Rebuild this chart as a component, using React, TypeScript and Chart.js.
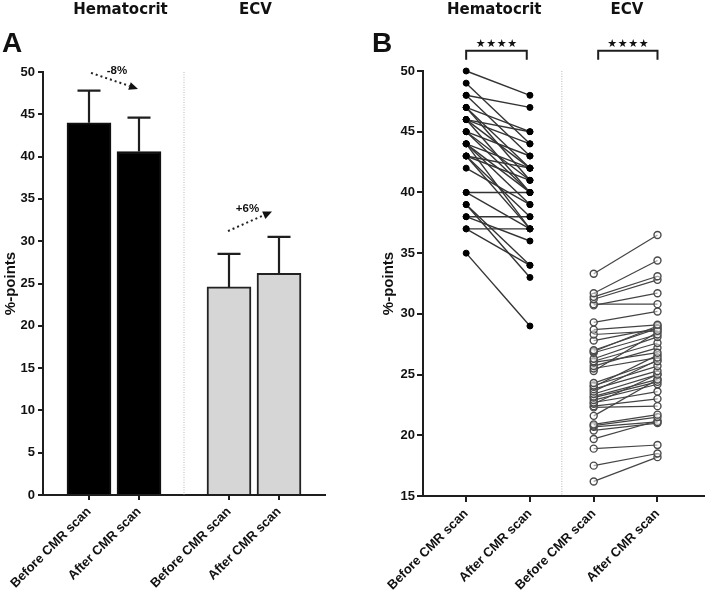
import React, { useEffect, useRef } from 'react';
import { Chart, registerables } from 'chart.js';
Chart.register(...registerables);

// ---------- shared labels ----------
const groupTitles = ['Hematocrit', 'ECV'];
const scanLabels = ['Before CMR scan', 'After CMR scan', 'Before CMR scan', 'After CMR scan'];
const panelLetters = ['A', 'B'];

// ---------- panel A (mean + SD bars) ----------
const barPositionsA = [0, 1, 2.8, 3.8];
const hctMeans = [44.0, 40.6];
const hctSD = [3.8, 4.0];
const ecvMeans = [24.6, 26.2];
const ecvSD = [3.9, 4.3];
const changeLabels = ['-8%', '+6%'];
const yTicksA = [0, 5, 10, 15, 20, 25, 30, 35, 40, 45, 50];

// ---------- panel B (paired values) ----------
const pairPositionsB = [0, 1, 2, 3];
const hctBefore = [50, 49, 48, 48, 47, 47, 47, 46, 46, 46, 46, 45, 45, 45, 44, 44, 44, 44, 43, 43, 43, 43, 42, 40, 40, 39, 39, 38, 38, 37, 37, 35];
const hctAfter = [48, 44, 47, 43, 45, 42, 41, 45, 44, 42, 40, 43, 41, 40, 42, 40, 39, 37, 42, 41, 38, 37, 39, 40, 37, 34, 33, 38, 36, 37, 34, 29];
const ecvBefore = [33.3, 31.7, 31.4, 31.2, 30.8, 30.7, 29.3, 28.7, 28.3, 27.8, 27.0, 26.9, 26.8, 26.3, 26.1, 26.0, 25.7, 25.5, 25.3, 24.3, 24.1, 24.0, 23.8, 23.6, 23.4, 23.2, 23.1, 22.9, 22.7, 22.6, 22.4, 22.3, 21.6, 20.9, 20.8, 20.7, 20.4, 19.7, 18.9, 17.5, 16.2];
const ecvAfter = [36.5, 34.4, 33.1, 32.8, 30.8, 31.7, 30.2, 29.1, 28.6, 28.8, 28.8, 29.0, 28.3, 28.1, 27.6, 26.8, 27.2, 26.4, 28.5, 26.1, 25.7, 26.6, 25.3, 26.2, 25.0, 24.6, 24.4, 24.2, 23.6, 25.0, 23.0, 22.4, 24.6, 21.7, 21.5, 21.1, 21.0, 21.2, 19.2, 18.5, 18.2];
const significance = ['****', '****'];
const yTicksB = [15, 20, 25, 30, 35, 40, 45, 50];

// ---------- styling ----------
const AXIS = '#1e1e1e';
const TXT = '#111';
const FAMILY = '"Liberation Sans", Arial, Helvetica, sans-serif';
const tickFontY = { family: FAMILY, size: 13, weight: 'bold' as const };
const tickFontX = { family: FAMILY, size: 13, weight: 'bold' as const };
const titleFont = { family: FAMILY, size: 15, weight: 'bold' as const };

function dottedArrow(ctx: CanvasRenderingContext2D, x1: number, y1: number, x2: number, y2: number) {
  const ang = Math.atan2(y2 - y1, x2 - x1);
  const head = 9;
  const bx = x2 - head * Math.cos(ang);
  const by = y2 - head * Math.sin(ang);
  ctx.save();
  ctx.strokeStyle = '#222';
  ctx.fillStyle = '#111';
  ctx.lineWidth = 2;
  ctx.setLineDash([2, 3]);
  ctx.beginPath();
  ctx.moveTo(x1, y1);
  ctx.lineTo(bx, by);
  ctx.stroke();
  ctx.setLineDash([]);
  ctx.beginPath();
  ctx.moveTo(x2, y2);
  ctx.lineTo(bx + 4 * Math.sin(ang), by - 4 * Math.cos(ang));
  ctx.lineTo(bx - 4 * Math.sin(ang), by + 4 * Math.cos(ang));
  ctx.closePath();
  ctx.fill();
  ctx.restore();
}

function drawHeader(chart: any, letter: string, letterX: number, titleXs: number[]) {
  const { ctx, scales } = chart;
  ctx.save();
  ctx.fillStyle = TXT;
  ctx.textBaseline = 'alphabetic';
  ctx.textAlign = 'left';
  ctx.font = `bold 28px ${FAMILY}`;
  ctx.fillText(letter, letterX, 52);
  ctx.textAlign = 'center';
  ctx.font = 'bold 15px "DejaVu Sans", sans-serif';
  groupTitles.forEach((t, i) => ctx.fillText(t, scales.x.getPixelForValue(titleXs[i]), 14));
  ctx.restore();
}

function separator(chart: any, xv: number) {
  const { ctx, scales, chartArea } = chart;
  const sx = scales.x.getPixelForValue(xv);
  ctx.save();
  ctx.strokeStyle = '#b8b8b8';
  ctx.lineWidth = 1;
  ctx.setLineDash([1, 1.5]);
  ctx.beginPath();
  ctx.moveTo(sx, chartArea.top);
  ctx.lineTo(sx, chartArea.bottom);
  ctx.stroke();
  ctx.restore();
}

const panelAPlugin = {
  id: 'panelA',
  beforeDatasetsDraw(chart: any) {
    separator(chart, 1.9);
  },
  afterDatasetsDraw(chart: any) {
    const { ctx, scales: { x, y } } = chart;
    const bars: number[][] = [
      ...hctMeans.map((m, i) => [barPositionsA[i], m, hctSD[i]]),
      ...ecvMeans.map((m, i) => [barPositionsA[i + 2], m, ecvSD[i]]),
    ];
    ctx.save();
    ctx.strokeStyle = AXIS;
    ctx.lineWidth = 2.2;
    for (const [pos, m, sd] of bars) {
      const px = x.getPixelForValue(pos);
      const pb = y.getPixelForValue(m);
      const pt = y.getPixelForValue(m + sd);
      ctx.beginPath();
      ctx.moveTo(px, pb);
      ctx.lineTo(px, pt);
      ctx.moveTo(px - 11.5, pt);
      ctx.lineTo(px + 11.5, pt);
      ctx.stroke();
    }
    ctx.restore();
    dottedArrow(ctx, x.getPixelForValue(0.04), y.getPixelForValue(49.9), x.getPixelForValue(0.98), y.getPixelForValue(48.0));
    dottedArrow(ctx, x.getPixelForValue(2.78), y.getPixelForValue(31.2), x.getPixelForValue(3.66), y.getPixelForValue(33.5));
    ctx.save();
    ctx.fillStyle = TXT;
    ctx.font = `bold 11.5px ${FAMILY}`;
    ctx.textAlign = 'center';
    ctx.textBaseline = 'alphabetic';
    ctx.fillText(changeLabels[0], x.getPixelForValue(0.56), y.getPixelForValue(49.75));
    ctx.fillText(changeLabels[1], x.getPixelForValue(3.17), y.getPixelForValue(33.45));
    ctx.restore();
  },
  afterDraw(chart: any) {
    drawHeader(chart, panelLetters[0], 2, [0.63, 3.33]);
  },
};

const panelBPlugin = {
  id: 'panelB',
  beforeDatasetsDraw(chart: any) {
    separator(chart, 1.5);
  },
  afterDraw(chart: any) {
    const { ctx, scales: { x, y } } = chart;
    drawHeader(chart, panelLetters[1], 22, [0.44, 2.52]);
    const brackets = [[0, 0.95], [2.07, 3.0]];
    ctx.save();
    ctx.strokeStyle = AXIS;
    ctx.fillStyle = TXT;
    ctx.lineWidth = 2;
    brackets.forEach(([a, b], i) => {
      const xa = x.getPixelForValue(a);
      const xb = x.getPixelForValue(b);
      const top = y.getPixelForValue(51.67);
      const leg = y.getPixelForValue(50.93);
      ctx.beginPath();
      ctx.moveTo(xa, leg);
      ctx.lineTo(xa, top);
      ctx.lineTo(xb, top);
      ctx.lineTo(xb, leg);
      ctx.stroke();
      const cx = (xa + xb) / 2;
      const stars = significance[i].length;
      ctx.font = '11px "DejaVu Sans", sans-serif';
      ctx.textAlign = 'center';
      ctx.textBaseline = 'alphabetic';
      for (let k = 0; k < stars; k++) {
        ctx.fillText('\u2605', cx + (k - (stars - 1) / 2) * 10.5, y.getPixelForValue(51.96));
      }
    });
    ctx.restore();
  },
};

function yAxis(min: number, max: number, ticks: number[], width: number, tickLen: number, pad: number) {
  return {
    type: 'linear' as const,
    min,
    max,
    afterBuildTicks: (s: any) => { s.ticks = ticks.map((v) => ({ value: v })); },
    ticks: { color: TXT, font: tickFontY, padding: pad },
    grid: { display: true, drawOnChartArea: false, drawTicks: true, tickLength: tickLen, color: AXIS, lineWidth: 2 },
    border: { display: true, color: AXIS, width: 2 },
    title: { display: true, text: '%-points', color: TXT, font: titleFont, padding: { top: 2, bottom: 0 } },
    afterFit: (s: any) => { s.width = width; s.paddingTop = 0; s.paddingBottom = 0; },
  };
}

function xAxis(min: number, max: number, positions: number[], height: number, tickLen: number) {
  return {
    type: 'linear' as const,
    min,
    max,
    offset: false,
    afterBuildTicks: (s: any) => { s.ticks = positions.map((v) => ({ value: v })); },
    ticks: {
      autoSkip: false,
      maxRotation: 45,
      minRotation: 45,
      color: TXT,
      font: tickFontX,
      padding: 4,
      callback: (v: any) => scanLabels[positions.indexOf(Number(v))] ?? '',
    },
    grid: { display: true, offset: false, drawOnChartArea: false, drawTicks: true, tickLength: tickLen, color: AXIS, lineWidth: 2 },
    border: { display: true, color: AXIS, width: 2 },
    afterFit: (s: any) => { s.height = height; s.paddingLeft = 0; s.paddingRight = 0; },
  };
}

export default function App() {
  const refA = useRef<HTMLCanvasElement>(null);
  const refB = useRef<HTMLCanvasElement>(null);

  useEffect(() => {
    const chartA = new Chart(refA.current as HTMLCanvasElement, {
      type: 'bar',
      data: {
        datasets: [
          {
            label: groupTitles[0],
            data: hctMeans.map((m, i) => ({ x: barPositionsA[i], y: m })),
            backgroundColor: '#000',
            borderColor: '#111',
            borderWidth: 2,
            barThickness: 44,
            grouped: false,
          } as any,
          {
            label: groupTitles[1],
            data: ecvMeans.map((m, i) => ({ x: barPositionsA[i + 2], y: m })),
            backgroundColor: '#d6d6d6',
            borderColor: '#222',
            borderWidth: 2,
            barThickness: 44,
            grouped: false,
          } as any,
        ],
      },
      options: {
        responsive: false,
        animation: false,
        layout: { padding: { top: 72, left: 0, right: 20, bottom: 0 } },
        plugins: { legend: { display: false }, tooltip: { enabled: false } },
        scales: {
          x: xAxis(-0.92, 4.72, barPositionsA, 100, 5) as any,
          y: yAxis(0, 50, yTicksA, 43, 5, 3) as any,
        },
      },
      plugins: [panelAPlugin],
    });

    const hctSets = hctBefore.map((b, i) => ({
      data: [{ x: pairPositionsB[0], y: b }, { x: pairPositionsB[1], y: hctAfter[i] }],
      showLine: true,
      borderColor: '#333',
      borderWidth: 1.4,
      pointRadius: 3,
      pointBackgroundColor: '#000',
      pointBorderColor: '#000',
      pointBorderWidth: 1,
      clip: false,
    }));
    const ecvSets = ecvBefore.map((b, i) => ({
      data: [{ x: pairPositionsB[2], y: b }, { x: pairPositionsB[3], y: ecvAfter[i] }],
      showLine: true,
      borderColor: '#444',
      borderWidth: 1.2,
      pointRadius: 3.5,
      pointBackgroundColor: 'rgba(255,255,255,0.5)',
      pointBorderColor: '#4a4a4a',
      pointBorderWidth: 1.4,
      clip: false,
    }));

    const chartB = new Chart(refB.current as HTMLCanvasElement, {
      type: 'scatter',
      data: { datasets: [...ecvSets, ...hctSets] as any },
      options: {
        responsive: false,
        animation: false,
        layout: { padding: { top: 71, left: 28, right: 0, bottom: 0 } },
        plugins: { legend: { display: false }, tooltip: { enabled: false } },
        scales: {
          x: xAxis(-0.677, 3.723, pairPositionsB, 99, 6) as any,
          y: yAxis(15, 50, yTicksB, 45, 6, 2) as any,
        },
      },
      plugins: [panelBPlugin],
    });

    return () => {
      chartA.destroy();
      chartB.destroy();
    };
  }, []);

  return (
    <div style={{ position: 'absolute', left: 0, top: 0, width: 709, height: 595, background: '#fff', overflow: 'hidden' }}>
      <canvas ref={refA} width={345} height={595} style={{ position: 'absolute', left: 0, top: 0 }} />
      <canvas ref={refB} width={359} height={595} style={{ position: 'absolute', left: 350, top: 0 }} />
    </div>
  );
}
